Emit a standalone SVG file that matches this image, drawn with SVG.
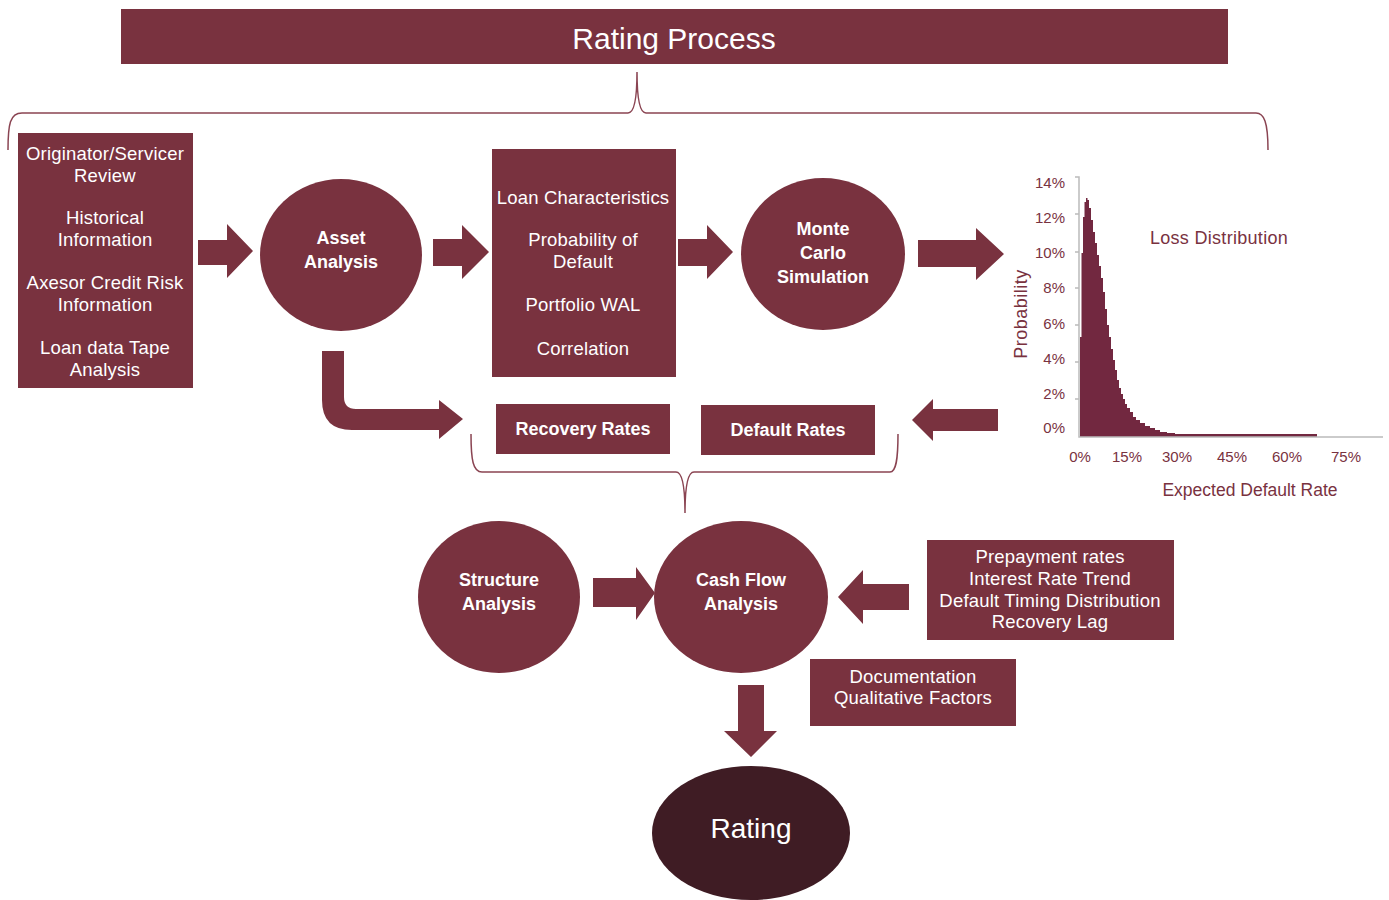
<svg xmlns="http://www.w3.org/2000/svg" width="1389" height="900" viewBox="0 0 1389 900">
<style>
.f{fill:#79323f}
.d{fill:#3f1c24}
.w{fill:#fff;font-family:"Liberation Sans",Arial,sans-serif;text-anchor:middle}
.t{font-size:18.5px;letter-spacing:0.2px}
.b{font-size:18px;font-weight:bold}
.br{fill:none;stroke:#8a4452;stroke-width:1.5}
.c{fill:#79323f;font-family:"Liberation Sans",Arial,sans-serif}
.tk{font-size:15px;text-anchor:end}
.tx{font-size:15px;text-anchor:middle}
.ax{stroke:#bbb;stroke-width:1.5;fill:none}
</style>
<rect width="1389" height="900" fill="#fff"/>
<g id="title">
<rect class="f" x="121" y="9" width="1107" height="55"/>
<text class="w" x="674" y="49" font-size="30">Rating Process</text>
</g>
<g id="connectors">
<path class="br" d="M8,150 C8,124 10,113 22,113 L628,113 C634,113 637,100 637,72 C637,100 640,113 646,113 L1256,113 C1264,113 1268,122 1268,150"/>
<path class="br" d="M471,434 C471,460 473,472 482,472 L676,472 C682,472 685,485 685,513 C685,485 688,472 694,472 L890,472 C896,472 898,460 898,434"/>
<path class="f" d="M198,240 H227 V224 L253,251 L227,278 V265 H198 Z"/>
<path class="f" d="M433,239 H462 V225 L489,252 L462,279 V266 H433 Z"/>
<path class="f" d="M678,239 H707 V225 L733,252 L707,279 V266 H678 Z"/>
<path class="f" d="M918,240 H976 V228 L1004,254 L976,280 V267 H918 Z"/>
<path class="f" d="M322,351 H344 V397 Q344,409 356,409 H439 V400 L463,419 L439,439 V430 H352 Q322,430 322,400 Z"/>
<path class="f" d="M998,409 H933 V399 L912,420 L933,441 V431 H998 Z"/>
<path class="f" d="M593,578 H636 V567 L655,593 L636,620 V607 H593 Z"/>
<path class="f" d="M909,584 H863 V570 L838,597 L863,624 V610 H909 Z"/>
<path class="f" d="M738,685 H764 V731 H777 L751,757 L724,731 H738 Z"/>
</g>
<g id="inputs">
<rect class="f" x="18" y="133" width="175" height="255"/>
<text class="w t"><tspan x="105" y="160">Originator/Servicer</tspan><tspan x="105" y="182">Review</tspan><tspan x="105" y="224">Historical</tspan><tspan x="105" y="246">Information</tspan><tspan x="105" y="289">Axesor Credit Risk</tspan><tspan x="105" y="311">Information</tspan><tspan x="105" y="354">Loan data Tape</tspan><tspan x="105" y="376">Analysis</tspan></text>
</g>
<g id="asset">
<ellipse class="f" cx="341" cy="255" rx="81" ry="76"/>
<text class="w b"><tspan x="341" y="244">Asset</tspan><tspan x="341" y="268">Analysis</tspan></text>
</g>
<g id="loanchar">
<rect class="f" x="492" y="149" width="184" height="228"/>
<text class="w t"><tspan x="583" y="204">Loan Characteristics</tspan><tspan x="583" y="246">Probability of</tspan><tspan x="583" y="268">Default</tspan><tspan x="583" y="311">Portfolio WAL</tspan><tspan x="583" y="355">Correlation</tspan></text>
</g>
<g id="montecarlo">
<ellipse class="f" cx="823" cy="254" rx="82" ry="76"/>
<text class="w b"><tspan x="823" y="235">Monte</tspan><tspan x="823" y="259">Carlo</tspan><tspan x="823" y="283">Simulation</tspan></text>
</g>
<g id="chart">
<path fill="#722840" d="M1080,437 V337 H1081.5 V253 H1083 V217 H1084.5 V202 H1086 V198 H1087.5 V200 H1089 V208 H1091 V220 H1093 V232 H1095 V243 H1097 V255 H1099 V266 H1101 V278 H1103 V292 H1105 V309 H1107 V325 H1109 V337 H1111 V349 H1113 V360 H1115 V370 H1117 V380 H1119 V388 H1121 V394 H1123 V399 H1125 V404 H1127 V408 H1130 V412 H1133 V417 H1136 V420 H1140 V423 H1145 V426 H1150 V428 H1155 V430 H1160 V432 H1167 V433 H1175 V434 H1317 V437 Z"/>
<path class="ax" d="M1075,177 H1079 V437 H1383 M1075,214 H1079 M1075,252 H1079 M1075,288 H1079 M1075,325 H1079 M1075,362 H1079 M1075,399 H1079"/>
<g class="c tk">
<text x="1065" y="188">14%</text><text x="1065" y="223">12%</text><text x="1065" y="258">10%</text><text x="1065" y="293">8%</text><text x="1065" y="329">6%</text><text x="1065" y="364">4%</text><text x="1065" y="399">2%</text><text x="1065" y="433">0%</text>
</g>
<g class="c tx">
<text x="1080" y="462">0%</text><text x="1127" y="462">15%</text><text x="1177" y="462">30%</text><text x="1232" y="462">45%</text><text x="1287" y="462">60%</text><text x="1346" y="462">75%</text>
</g>
<text class="c" x="1027" y="314" font-size="18" letter-spacing="0.5" text-anchor="middle" transform="rotate(-90 1027 314)">Probability</text>
<text class="c" x="1219" y="244" font-size="18" letter-spacing="0.3" text-anchor="middle">Loss Distribution</text>
<text class="c" x="1250" y="496" font-size="17.5" text-anchor="middle">Expected Default Rate</text>
</g>
<g id="recovery">
<rect class="f" x="496" y="404" width="174" height="50"/>
<text class="w b" x="583" y="435">Recovery Rates</text>
</g>
<g id="default">
<rect class="f" x="701" y="405" width="174" height="50"/>
<text class="w b" x="788" y="436">Default Rates</text>
</g>
<g id="structure">
<ellipse class="f" cx="499" cy="597" rx="81" ry="76"/>
<text class="w b"><tspan x="499" y="586">Structure</tspan><tspan x="499" y="610">Analysis</tspan></text>
</g>
<g id="cashflow">
<ellipse class="f" cx="741" cy="597" rx="87" ry="76"/>
<text class="w b"><tspan x="741" y="586">Cash Flow</tspan><tspan x="741" y="610">Analysis</tspan></text>
</g>
<g id="prepayment">
<rect class="f" x="927" y="540" width="247" height="100"/>
<text class="w t"><tspan x="1050" y="563">Prepayment rates</tspan><tspan x="1050" y="585">Interest Rate Trend</tspan><tspan x="1050" y="607">Default Timing Distribution</tspan><tspan x="1050" y="628">Recovery Lag</tspan></text>
</g>
<g id="documentation">
<rect class="f" x="810" y="659" width="206" height="67"/>
<text class="w t"><tspan x="913" y="683">Documentation</tspan><tspan x="913" y="704">Qualitative Factors</tspan></text>
</g>
<g id="rating">
<ellipse class="d" cx="751" cy="833" rx="99" ry="67"/>
<text class="w" x="751" y="838" font-size="28">Rating</text>
</g>
</svg>
